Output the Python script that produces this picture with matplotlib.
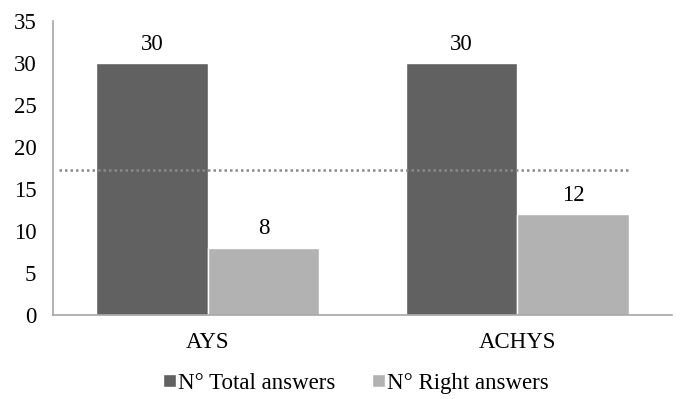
import matplotlib
matplotlib.use("Agg")
import matplotlib.pyplot as plt
from matplotlib.patches import Patch
import numpy as np

categories = ["AYS", "ACHYS"]
total_answers = [30, 30]
right_answers = [8, 12]
threshold = 17.3
series_names = ["N° Total answers", "N° Right answers"]
yticks = [0, 5, 10, 15, 20, 25, 30, 35]

dark = "#616161"
light = "#b2b2b2"
fs = 16.5

plt.rcParams["font.family"] = ["Liberation Serif", "DejaVu Serif"]

fig = plt.figure(figsize=(6.81, 3.99), dpi=100)
ax = fig.add_axes([53 / 681, 1 - 315 / 399, (672 - 53) / 681, (315 - 21) / 399])

x = np.arange(len(categories))
w = 0.36
b1 = ax.bar(x - w / 2, total_answers, w, color=dark, edgecolor="white", linewidth=1)
b2 = ax.bar(x + w / 2, right_answers, w, color=light, edgecolor="white", linewidth=1)

ax.bar_label(b1, padding=6, fontsize=fs)
ax.bar_label(b2, padding=6, fontsize=fs)

ax.plot([-0.48, 1.36], [threshold, threshold], linestyle=(0, (1, 1.2)),
        color="#8a8a8a", linewidth=1.8)

ax.set_xlim(-0.5, 1.5)
ax.set_ylim(0, 35)
ax.set_xticks(x)
ax.set_xticklabels(categories, fontsize=fs)
ax.set_yticks(yticks)
ax.set_yticklabels([str(t) for t in yticks], fontsize=fs)
ax.tick_params(axis="both", length=0)
ax.tick_params(axis="y", pad=12)
ax.tick_params(axis="x", pad=12)

for side in ["top", "right"]:
    ax.spines[side].set_visible(False)
for side in ["left", "bottom"]:
    ax.spines[side].set_color("#a6a6a6")
    ax.spines[side].set_linewidth(1.2)

handles = [Patch(facecolor=dark, edgecolor="white"), Patch(facecolor=light, edgecolor="white")]
fig.legend(handles, series_names, loc="center", bbox_to_anchor=(0.523, 0.04),
           ncol=2, frameon=False, fontsize=fs, handlelength=0.55, handleheight=0.55,
           handletextpad=0.1, columnspacing=1.6)

fig.savefig("out.png", dpi=100)
